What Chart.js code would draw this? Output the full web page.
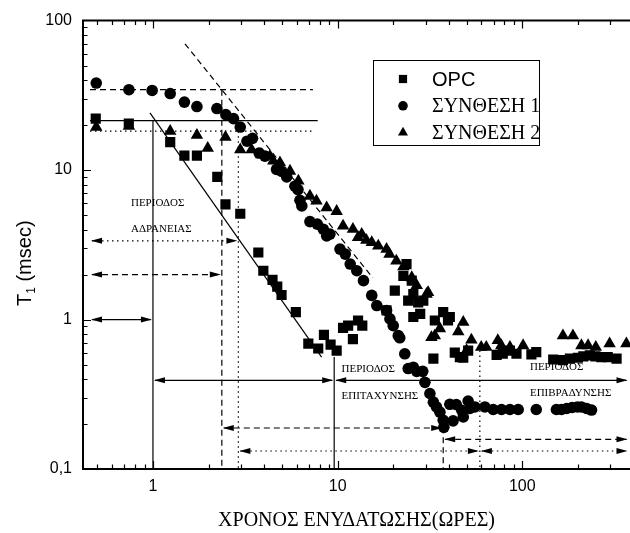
<!DOCTYPE html>
<html>
<head>
<meta charset="utf-8">
<script src="https://cdn.jsdelivr.net/npm/chart.js@4.4.1/dist/chart.umd.min.js"></script>
<style>
html, body { margin: 0; padding: 0; background: #fff; overflow: hidden; }
#wrap { width: 630px; height: 533px; position: relative; }
</style>
</head>
<body>
<div id="wrap"><canvas id="t1Chart"></canvas></div>
<script>
// --- δεδομένα (ώρες, msec) ---
const opcX = [0.49, 0.74, 1.24, 1.48, 1.73, 2.23, 2.47, 2.97, 3.72, 3.96, 4.44, 4.71, 4.97, 5.94, 6.94, 7.85, 8.43, 9.16, 9.88,
  10.7, 11.4, 12.1, 12.9, 13.6, 18.4, 20.4, 22.7, 23.6, 25.2, 25.7, 24.1, 27.3, 29.1, 25.7, 28, 33.0, 33.6, 37.3, 39.6, 40.5,
  43.1, 45.9, 47.9, 50.9, 72.6, 78.4, 85.7, 93, 112, 119, 147, 166, 181, 200, 214, 232, 249, 268, 290, 324];
const opcY = [22.1, 20.5, 15.4, 12.5, 12.5, 9.0, 5.9, 5.1, 2.81, 2.12, 1.84, 1.66, 1.46, 1.12, 0.69, 0.64, 0.79, 0.68, 0.62,
  0.88, 0.91, 0.74, 0.985, 0.91, 1.15, 1.56, 1.96, 2.35, 1.82, 1.48, 1.34, 1.30, 1.34, 1.04, 1.09, 0.547, 0.985, 1.12, 0.985, 1.04,
  0.6, 0.56, 0.555, 0.62, 0.58, 0.59, 0.62, 0.59, 0.585, 0.605, 0.54, 0.535, 0.547, 0.555, 0.567, 0.575, 0.567, 0.56, 0.56, 0.547];

const s1X = [0.493, 0.741, 0.99, 1.24, 1.48, 1.73, 2.22, 2.48, 2.73, 2.97, 3.23, 3.46, 3.76, 4.04, 4.67, 4.98, 5.3, 5.87, 6.1,
  6.25, 6.4, 7.08, 7.76, 8.36, 8.72, 9.08, 10.3, 11.0, 11.7, 12.7, 13.8, 15.3, 16.3, 18.4, 19.2, 20.0, 21.3, 21.7, 23.1, 24.1,
  25.7, 26.8, 28.9, 29.7, 31.6, 33.0, 34.3, 35.8, 37.3, 37.6, 40.5, 42.2, 43.9, 47.0, 47.9, 50.9, 52.0, 55.4, 62.7, 69.6,
  77.2, 85.7, 95, 119, 153, 163, 174, 186, 199, 209, 223, 237];
const s1Y = [38.2, 34.5, 34.1, 32.5, 28.5, 26.6, 25.8, 23.5, 22.1, 19.4, 15.6, 16.3, 13.0, 12.4, 10.1, 9.8, 9.0, 7.8, 7.4,
  6.28, 5.75, 4.52, 4.35, 4.02, 3.63, 3.73, 2.96, 2.74, 2.35, 2.12, 1.82, 1.45, 1.24, 1.15, 1.01, 0.91, 0.78, 0.755, 0.59, 0.47,
  0.48, 0.45, 0.45, 0.38, 0.32, 0.28, 0.26, 0.24, 0.212, 0.19, 0.271, 0.21, 0.27, 0.247, 0.223, 0.285, 0.254, 0.26, 0.26, 0.25,
  0.25, 0.25, 0.25, 0.25, 0.25, 0.25, 0.254, 0.258, 0.26, 0.26, 0.254, 0.248];

const s2X = [0.493, 0.741, 1.24, 1.73, 1.98, 2.47, 2.97, 3.42, 3.88, 4.30, 4.48, 4.87, 5.52, 6.13, 7.08, 7.68, 8.72, 9.88,
  10.7, 12.1, 12.9, 13.5, 14.3, 15.3, 16.6, 18.4, 19.1, 20.8, 22.7, 25.2, 26.8, 30.3, 30.9, 32.2, 33.6, 35.8, 45, 47.9,
  49.9, 53, 59.9, 63.8, 73.7, 76.9, 85.7, 101, 166, 188, 209, 227, 250, 297, 366];
const s2Y = [19.4, 19.7, 18.2, 17.1, 14.0, 16.6, 13.7, 13.7, 12.7, 12.4, 11.5, 11.2, 9.85, 8.45, 6.7, 6.21, 5.6, 5.3,
  4.23, 4.02, 3.54, 3.73, 3.4, 3.28, 3.11, 2.96, 2.74, 2.47, 2.26, 1.91, 1.69, 1.48, 1.52, 0.76, 0.78, 0.87, 0.83, 0.96,
  0.62, 0.73, 0.654, 0.654, 0.725, 0.67, 0.654, 0.67, 0.78, 0.78, 0.67, 0.67, 0.654, 0.69, 0.69];

// βοηθητικές γραμμές [x1, y1, x2, y2]
const solidLines = [[0.456, 21.4, 7.8, 21.4], [0.963, 24.1, 8.19, 0.561], [1.0, 21.4, 1.0, 0.1], [9.58, 0.561, 9.58, 0.1]];
const dashLines = [[0.456, 34.5, 7.35, 34.5], [1.49, 70, 15.5, 1.9], [2.36, 34.5, 2.36, 0.1], [37.3, 0.19, 37.3, 0.1]];
const dotLines = [[0.456, 18.2, 7.23, 18.2], [2.9, 18.2, 2.9, 0.1], [58.9, 0.62, 58.9, 0.1]];

// βέλη διπλής κατεύθυνσης [x1, x2, y]
const solidArrows = [[0.456, 1.0, 1.0], [1.0, 9.58, 0.392], [9.58, 376, 0.392]];
const dashArrows = [[0.456, 2.36, 2.0], [2.36, 37.3, 0.188], [37.3, 376, 0.158]];
const dotArrows = [[0.456, 2.9, 3.36], [2.9, 58.9, 0.132], [58.9, 376, 0.132]];

// κείμενα περιόδων [κείμενο, x, y]
const notes = [
  ['ΠΕΡΙΟΔΟΣ', 0.76, 6.05], ['ΑΔΡΑΝΕΙΑΣ', 0.76, 4.02],
  ['ΠΕΡΙΟΔΟΣ', 10.5, 0.469], ['ΕΠΙΤΑΧΥΝΣΗΣ', 10.5, 0.308],
  ['ΠΕΡΙΟΔΟΣ', 110, 0.48], ['ΕΠΙΒΡΑΔΥΝΣΗΣ', 110, 0.32]
];

const xTitle = 'ΧΡΟΝΟΣ ΕΝΥΔΑΤΩΣΗΣ(ΩΡΕΣ)';

function toPoints(xs, ys) {
  return xs.map((x, i) => ({ x: x, y: ys[i] }));
}

function lineSets(list, dash) {
  return list.map(l => ({
    data: [{ x: l[0], y: l[1] }, { x: l[2], y: l[3] }],
    showLine: true,
    borderColor: '#000',
    borderWidth: 1.2,
    borderDash: dash,
    pointRadius: 0,
    isGuide: true
  }));
}

function isDecade(v) {
  const l = Math.log10(v);
  return Math.abs(l - Math.round(l)) < 1e-6;
}

function isStep(v) {
  const m = v / Math.pow(10, Math.floor(Math.log10(v) + 1e-9));
  return Math.abs(m - Math.round(m)) < 1e-6;
}

function decadeLabel(v) {
  if (!isDecade(v)) return '';
  if (Math.abs(v - 0.1) < 1e-9) return '0,1';
  return String(Math.round(v));
}

function arrowHead(ctx, x, y, dir) {
  ctx.beginPath();
  ctx.moveTo(x, y);
  ctx.lineTo(x - dir * 11, y - 3);
  ctx.lineTo(x - dir * 11, y + 3);
  ctx.closePath();
  ctx.fill();
}

// σχέδιο κειμένων, βελών, αξόνων και υπομνήματος
const decorPlugin = {
  id: 'decor',
  beforeDatasetsDraw(chart) {
    const ctx = chart.ctx;
    const xs = chart.scales.x, ys = chart.scales.y;
    ctx.save();
    ctx.fillStyle = '#000';
    ctx.font = '11px "Liberation Serif"';
    ctx.textAlign = 'left';
    ctx.textBaseline = 'middle';
    notes.forEach(n => ctx.fillText(n[0], xs.getPixelForValue(n[1]), ys.getPixelForValue(n[2])));
    ctx.restore();
  },
  afterDatasetsDraw(chart) {
    const ctx = chart.ctx;
    const area = chart.chartArea;
    const xs = chart.scales.x, ys = chart.scales.y;
    ctx.save();
    ctx.strokeStyle = '#000';
    ctx.fillStyle = '#000';
    ctx.lineWidth = 1.2;

    const drawArrows = (list, dash) => {
      list.forEach(a => {
        const x1 = xs.getPixelForValue(a[0]), x2 = xs.getPixelForValue(a[1]), y = ys.getPixelForValue(a[2]);
        ctx.setLineDash(dash);
        ctx.beginPath();
        ctx.moveTo(x1 + 2, y);
        ctx.lineTo(x2 - 2, y);
        ctx.stroke();
        ctx.setLineDash([]);
        arrowHead(ctx, x1 + 1, y, -1);
        arrowHead(ctx, x2 - 1, y, 1);
      });
    };
    drawArrows(solidArrows, []);
    drawArrows(dashArrows, [6, 4]);
    drawArrows(dotArrows, [1.5, 3.5]);

    // άξονες
    ctx.setLineDash([]);
    ctx.lineWidth = 2;
    ctx.beginPath();
    ctx.moveTo(area.right + 2, area.top);
    ctx.lineTo(area.left, area.top);
    ctx.lineTo(area.left, area.bottom);
    ctx.lineTo(area.right + 2, area.bottom);
    ctx.stroke();

    // εσωτερικές υποδιαιρέσεις
    ctx.lineWidth = 1.2;
    ctx.beginPath();
    xs.ticks.forEach(t => {
      if (t.value <= xs.min || t.value >= xs.max || !isStep(t.value)) return;
      const p = Math.round(xs.getPixelForValue(t.value)) + 0.5;
      const len = isDecade(t.value) ? 8 : 4.5;
      ctx.moveTo(p, area.bottom);
      ctx.lineTo(p, area.bottom - len);
      ctx.moveTo(p, area.top);
      ctx.lineTo(p, area.top + len);
    });
    ys.ticks.forEach(t => {
      if (t.value <= ys.min || t.value >= ys.max || !isStep(t.value)) return;
      const p = Math.round(ys.getPixelForValue(t.value)) + 0.5;
      const len = isDecade(t.value) ? 8 : 4.5;
      ctx.moveTo(area.left, p);
      ctx.lineTo(area.left + len, p);
    });
    ctx.stroke();

    // τίτλος άξονα y: T1 (msec)
    ctx.translate(31, 306);
    ctx.rotate(-Math.PI / 2);
    ctx.textAlign = 'left';
    ctx.textBaseline = 'alphabetic';
    ctx.font = '20px "Liberation Sans"';
    ctx.fillText('T', 0, 0);
    const tw = ctx.measureText('T').width;
    ctx.font = '12px "Liberation Sans"';
    ctx.fillText('1', tw, 4);
    const sw = ctx.measureText('1').width;
    ctx.font = '20px "Liberation Sans"';
    ctx.fillText(' (msec)', tw + sw, 0);
    ctx.restore();

    // υπόμνημα
    ctx.save();
    ctx.strokeStyle = '#000';
    ctx.lineWidth = 1;
    ctx.strokeRect(373.5, 60.5, 166, 85);
    const legendSizes = [5.8, 4.8, 5.8];
    const legendFonts = ['20px "Liberation Sans"', '20px "Liberation Serif"', '20px "Liberation Serif"'];
    ctx.textAlign = 'left';
    ctx.textBaseline = 'middle';
    ctx.fillStyle = '#000';
    chart.data.datasets.filter(d => !d.isGuide).forEach((d, i) => {
      const y = 79 + i * 26.8;
      Chart.helpers.drawPoint(ctx, { pointStyle: d.pointStyle, radius: legendSizes[i], rotation: 0, borderWidth: 0 }, 403, y);
      ctx.font = legendFonts[i];
      ctx.fillText(d.label, 432, y + 1);
    });
    ctx.restore();
  }
};

const tickFont = { family: 'Liberation Sans', size: 16 };

const chart = new Chart(document.getElementById('t1Chart').getContext('2d'), {
  type: 'scatter',
  data: {
    datasets: [
      { label: 'OPC', data: toPoints(opcX, opcY), pointStyle: 'rect', pointRadius: 7.2, backgroundColor: '#000', borderWidth: 0 },
      { label: 'ΣΥΝΘΕΣΗ 1', data: toPoints(s1X, s1Y), pointStyle: 'circle', pointRadius: 5.8, backgroundColor: '#000', borderWidth: 0 },
      { label: 'ΣΥΝΘΕΣΗ 2', data: toPoints(s2X, s2Y), pointStyle: 'triangle', pointRadius: 7.2, backgroundColor: '#000', borderWidth: 0 }
    ].concat(lineSets(solidLines, []), lineSets(dashLines, [6, 4]), lineSets(dotLines, [1.5, 3.5]))
  },
  options: {
    responsive: true,
    maintainAspectRatio: false,
    animation: false,
    devicePixelRatio: 1,
    layout: { autoPadding: false, padding: { left: 0, right: 0, top: 19, bottom: 0 } },
    plugins: {
      legend: { display: false },
      tooltip: { enabled: false },
      title: { display: false }
    },
    scales: {
      x: {
        type: 'logarithmic',
        position: 'bottom',
        min: 0.418,
        max: 383,
        grid: { display: false, drawTicks: true, tickLength: 8 },
        border: { display: false },
        ticks: { autoSkip: false, maxRotation: 0, padding: 0, color: '#000', font: tickFont, callback: v => decadeLabel(v) },
        title: { display: true, text: xTitle, color: '#000', font: { family: 'Liberation Serif', size: 20 }, padding: { top: 0, bottom: 0 } },
        afterFit: s => { s.height = 64; s.paddingLeft = 0; s.paddingRight = 0; }
      },
      y: {
        type: 'logarithmic',
        position: 'left',
        min: 0.1,
        max: 100,
        grid: { display: false, drawTicks: false, tickLength: 0 },
        border: { display: false },
        ticks: { autoSkip: false, padding: 11, color: '#000', font: tickFont, callback: v => decadeLabel(v) },
        afterFit: s => { s.width = 83; }
      }
    }
  },
  plugins: [decorPlugin]
});
</script>
</body>
</html>
